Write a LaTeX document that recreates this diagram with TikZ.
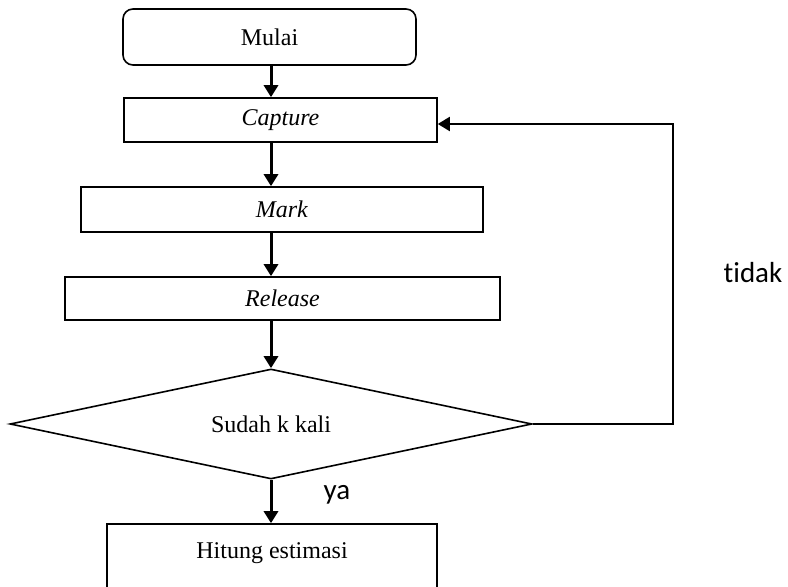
\documentclass[tikz,border=0pt]{standalone}
\usepackage{fontspec}
\setmainfont{Liberation Serif}
\newfontfamily\labelfont[Ligatures=NoCommon]{Carlito}
\usetikzlibrary{arrows.meta}
\usetikzlibrary{shapes.geometric}
\tikzset{box/.style = {draw, line width=0.8pt, inner sep=0pt,
                       font=\fontsize{12}{14.5}\selectfont},
         flow/.style = {line width=1.5pt, -{Triangle[width=7pt,length=6pt]}},
         answer/.style = {font=\labelfont\fontsize{14.5}{17}\selectfont}}

\begin{document}
\begin{tikzpicture}[x=0.5pt, y=-0.5pt]
    \useasboundingbox (0, 0) rectangle (788, 587);
    \node [box, rounded corners=5pt, minimum width=146.5pt, minimum height=28pt] (mulai) at (269.5, 37) {Mulai};
    \node [box, minimum width=156.5pt, minimum height=22pt] (capture) at (280.5, 120) {\textit{Capture}};
    \node [box, minimum width=201pt, minimum height=22.5pt] (mark) at (282, 209.5) {\textit{Mark}};
    \node [box, minimum width=217.5pt, minimum height=21.5pt] (release) at (282.5, 298.5) {\textit{Release}};
    \node [box, diamond, aspect=4.75, minimum width=261pt, minimum height=55pt] (dec) at (271, 424) {Sudah k kali};
    \node [box, align=center, minimum width=165pt, minimum height=41.5pt] (hitung) at (272, 565.5) {Hitung estimasi\\~};
    \coordinate (axis) at (271, 0);
    \draw [flow] (mulai.south -| axis) -- (capture.north -| axis);
    \draw [flow] (capture.south -| axis) -- (mark.north -| axis);
    \draw [flow] (mark.south -| axis) -- (release.north -| axis);
    \draw [flow] (release.south -| axis) -- (dec.north);
    \draw [flow] (dec.south) -- (hitung.north -| axis);
    \draw [line width=1pt, -{Triangle[width=7pt,length=6pt]}] (dec.east) -- ++(140, 0) |- ([yshift=-2pt]capture.east);
    \node [answer] (tidak) at (753, 273) {tidak};
    \node [answer] (ya) at (337, 495) {ya};
\end{tikzpicture}
\end{document}
